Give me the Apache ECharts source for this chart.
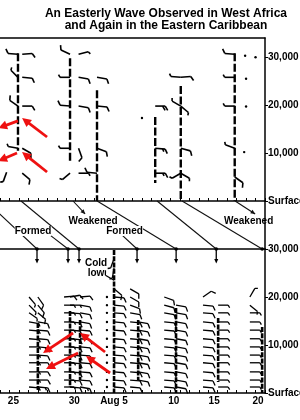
<!DOCTYPE html>
<html><head><meta charset="utf-8">
<script src="https://cdn.jsdelivr.net/npm/echarts@6/dist/echarts.min.js"></script>
<style>html,body{margin:0;padding:0;background:#fff}#c{width:300px;height:420px}</style>
</head><body><div id="c"></div>
<script>
// ---------- DATA (days counted from July 25 = 0) ----------
const dayTicks = [0, 5, 11, 16, 21, 26];
const dayLabels = ['25', '30', 'Aug 5', '10', '15', '20'];
const heightTicks = [0, 10000, 20000, 30000];
const heightLabels = ['Surface', '10,000', '20,000', '30,000'];

// West Africa soundings: [day, height ft, wind direction deg, speed kt]
const waWinds = [
  [-0.1, 30600, 275, 10], [0.35, 30600, 85, 10],
  [-0.1, 25800, 315, 5],  [0.35, 25800, 95, 10],
  [-0.1, 19800, 305, 10], [0.35, 19800, 90, 10],
  [-0.1, 11000, 280, 5],  [0.35, 11000, 120, 10],
  [-1.3, 6000, 200, 5],   [0.35, 5800, 130, 10],
  [5.4, 30600, 295, 10],  [6.3, 30600, 75, 5],
  [5.4, 25800, 270, 5],   [6.3, 25800, 100, 10],
  [5.4, 19800, 275, 10],  [6.3, 19800, 100, 10],
  [5.4, 11000, 270, 5],   [6.3, 11000, 160, 10],
  [5.4, 5800, 230, 5],    [6.3, 5800, 90, 5],
  [8.25, 25800, 100, 10], [8.25, 19800, 95, 10],
  [8.25, 11000, 110, 10], [8.25, 5800, 275, 10],
  [13.0, 17300, 0, 0],
  [14.4, 19800, 90, 20],  [14.4, 11000, 95, 15], [14.4, 5800, 90, 15],
  [17.1, 25800, 275, 5],  [17.1, 25800, 85, 10],
  [17.1, 19800, 300, 5],  [17.1, 19800, 130, 5],
  [17.1, 11000, 105, 10],
  [17.1, 5800, 240, 5],   [17.1, 5800, 120, 5],
  [22.8, 30600, 275, 10], [23.9, 30300, 0, 0], [25.0, 30000, 0, 0],
  [22.8, 25800, 270, 5],  [24.0, 25500, 0, 0],
  [22.8, 19800, 270, 5],  [24.0, 19700, 0, 0],
  [22.8, 11000, 290, 5],  [23.8, 10200, 0, 0],
  [22.8, 5000, 125, 10]
];
// vertical sounding traces: [day, top ft, bottom ft]
const waTraces = [[-0.1, 30800, 10500], [5.4, 29800, 8100], [8.25, 23100, 0],
                  [14.4, 17500, 3750], [17.1, 24000, 0], [22.8, 30800, 0]];
// red arrows: [tail day, tail ft, head day, head ft]
const waRedArrows = [[-0.1, 16700, -2.2, 15200], [2.97, 13350, 0.33, 17300],
                     [-0.2, 10000, -2.2, 8340], [2.97, 6050, 0.33, 10200]];

// wave tracks between the panels: [day seen in West Africa, day seen in Caribbean]
const waveLinks = [[-3.48, 1.91], [0.22, 6.35], [8.26, 16.61], [14.6, 20.85], [17.24, 25.7]];
// pointer lines [from day, from frac, to day, to frac]
const pointers = [[3.29, 0.29, 5.19, 0], [10.9, 0.29, 12.48, 0]];
const weakenArrows = [[5.72, 1, 6.99, 0.73], [22.84, 1, 24.96, 0.73]];
const midLabels = [['Formed', 1.49, 0.375], ['Weakened', 7.83, 0.583],
                   ['Formed', 11.16, 0.375], ['Weakened', 24.27, 0.583]];
const arrivalDays = [1.91, 5.19, 6.35, 12.48, 16.61, 20.85];

// Eastern Caribbean soundings
const caribLevels = [20000, 18300, 16700, 14800, 13100, 11300, 9600, 7900, 6300, 4400, 2700, 1250];
const caribDays = [1.07, 2.0, 4.77, 5.4, 6.46, 9.3, 10.05, 11.75, 12.6, 15.35, 16.6, 19.45, 21.05, 24.4];
const caribDirs = [
  [140,135,125,100,95,95,90,90,90,90,90,95],
  [145,140,130,100,95,95,95,95,90,90,90,95],
  [85,90,90,90,90,90,90,90,90,90,90,90],
  [80,90,95,95,95,95,95,95,95,95,95,95],
  [85,100,100,100,95,95,95,95,95,95,95,100],
  [90,90,90,90,90,90,90,90,90,90,90,90],
  [95,95,95,95,95,95,95,95,95,95,95,95],
  [120,110,100,95,95,95,95,95,95,95,95,95],
  [null,null,null,100,100,100,100,100,100,100,100,null],
  [110,105,100,95,95,95,95,95,95,95,95,95],
  [null,100,100,100,100,100,100,100,100,100,100,100],
  [55,95,95,95,95,95,95,95,95,95,95,95],
  [null,90,90,90,90,90,90,90,90,90,90,90],
  [30,130,90,90,90,90,90,90,90,90,90,90]
];
const caribSpeeds = [
  [5,5,5,5,5,5,5,5,5,5,5,5],
  [10,10,10,10,10,10,15,10,10,10,10,15],
  [10,5,5,5,5,5,5,5,5,5,5,5],
  [10,5,10,10,10,10,10,10,10,10,10,10],
  [10,10,10,10,10,10,10,10,10,10,10,15],
  [0,0,0,0,0,0,0,0,0,0,0,0],
  [10,10,10,10,10,10,10,10,10,10,10,10],
  [10,10,10,10,10,10,10,10,10,10,10,10],
  [null,null,null,10,10,10,10,10,10,10,10,null],
  [10,10,10,10,10,10,10,10,10,10,10,10],
  [null,10,10,10,10,10,10,10,10,10,10,10],
  [10,10,10,10,10,10,10,10,10,10,10,10],
  [null,5,5,5,5,5,5,5,5,5,5,5],
  [5,5,5,5,5,5,5,5,5,5,5,5]
];
const caribExtra = [[10.05, 28000, 200, 5], [10.05, 26000, 190, 5],
                    [10.05, 23500, 300, 10], [10.05, 21700, 130, 10], [11.75, 21700, 120, 10]];
const caribTraces = [[2.0, 14600, 600], [5.4, 17100, 1250], [6.46, 15200, 2700], [10.05, 29800, 0],
                     [12.6, 15200, 2700], [16.6, 17700, 0], [21.05, 15600, 2300], [25.7, 13750, 0]];
const caribRedArrows = [[5.72, 12500, 2.55, 8330], [9.1, 8540, 6.46, 12500],
                        [6.25, 8330, 2.86, 5000], [9.63, 4170, 7.09, 7700]];
const coldLowLabel = [['Cold\nlow', 8.15, 26000]];

// ---------- build ----------
const caribWinds = [];
caribDays.forEach((d, i) => caribLevels.forEach((h, j) => {
  if (caribDirs[i][j] != null) caribWinds.push([d, h, caribDirs[i][j], caribSpeeds[i][j]]);
}));
caribExtra.forEach(r => caribWinds.push(r));

const FONT = '"Liberation Sans", Arial, sans-serif';
const RED = '#ee1111';
function ln(x1, y1, x2, y2, w, c, dash) {
  return {type: 'line', shape: {x1, y1, x2, y2}, style: {stroke: c || '#000', lineWidth: w, lineDash: dash || null}};
}
function head(x1, y1, x2, y2, len, hw, c) {
  const dx = x2 - x1, dy = y2 - y1, m = Math.hypot(dx, dy) || 1, ux = dx / m, uy = dy / m;
  const bx = x2 - ux * len, by = y2 - uy * len;
  return {type: 'polygon', shape: {points: [[x2, y2], [bx - uy * hw, by + ux * hw], [bx + uy * hw, by - ux * hw]]},
          style: {fill: c || '#000'}};
}
function barbRenderer(w) {
  return function (params, api) {
    const p = api.coord([api.value(0), api.value(1)]);
    const dir = api.value(2), spd = api.value(3);
    if (!spd) return {type: 'circle', shape: {cx: p[0], cy: p[1], r: 1.2}, style: {fill: '#000'}};
    const t = dir * Math.PI / 180, sx = Math.sin(t), sy = -Math.cos(t);
    const L = 10, F = 5;
    const tx = p[0] + sx * L, ty = p[1] + sy * L;
    const nx = -sy, ny = sx;
    const fx = nx * 0.87 + sx * 0.5, fy = ny * 0.87 + sy * 0.5;
    const ch = [ln(p[0], p[1], tx, ty, w)];
    let r = spd, k = 0;
    while (r >= 10) {
      const bx = tx - sx * k * 2.6, by = ty - sy * k * 2.6;
      ch.push(ln(bx, by, bx + fx * F, by + fy * F, w)); r -= 10; k++;
    }
    if (r >= 5) {
      const bx = tx - sx * k * 2.6, by = ty - sy * k * 2.6;
      ch.push(ln(bx, by, bx + fx * F * 0.6, by + fy * F * 0.6, w));
    }
    return {type: 'group', children: ch};
  };
}
function traceRender(w, dash) {
  return function (params, api) {
    const a = api.coord([api.value(0), api.value(1)]), b = api.coord([api.value(0), api.value(2)]);
    return ln(a[0], a[1], b[0], b[1], w, '#000', dash);
  };
}
function redArrowRender(params, api) {
  const a = api.coord([api.value(0), api.value(1)]), b = api.coord([api.value(2), api.value(3)]);
  const dx = b[0] - a[0], dy = b[1] - a[1], m = Math.hypot(dx, dy), ux = dx / m, uy = dy / m;
  return {type: 'group', children: [
    ln(a[0], a[1], b[0] - ux * 6, b[1] - uy * 6, 2.8, RED),
    head(a[0], a[1], b[0], b[1], 9, 4.5, RED)
  ]};
}
function linkRender(params, api) {
  const a = api.coord([api.value(0), 1]), b = api.coord([api.value(1), 0]);
  return {type: 'group', children: [
    ln(a[0], a[1], b[0], b[1], 1.1, '#111'),
    {type: 'circle', shape: {cx: b[0], cy: b[1], r: 1.8}, style: {fill: '#000'}}
  ]};
}
function pointerRender(params, api) {
  const a = api.coord([api.value(0), api.value(1)]), b = api.coord([api.value(2), api.value(3)]);
  return {type: 'group', children: [
    ln(a[0], a[1], b[0], b[1], 1.1, '#111'),
    {type: 'circle', shape: {cx: b[0], cy: b[1], r: 1.8}, style: {fill: '#000'}}
  ]};
}
function weakenRender(params, api) {
  const a = api.coord([api.value(0), api.value(1)]), b = api.coord([api.value(2), api.value(3)]);
  return {type: 'group', children: [
    ln(a[0], a[1], b[0], b[1], 1.1, '#111'),
    head(a[0], a[1], b[0], b[1], 4.5, 2.2, '#111')
  ]};
}
function textRender(list, bg) {
  return function (params, api) {
    const it = list[params.dataIndex];
    const p = api.coord([it[1], it[2]]);
    return {type: 'text', x: p[0], y: p[1], style: {
      text: it[0], font: 'bold 10px ' + FONT, fill: '#000',
      align: 'center', verticalAlign: 'middle', textAlign: 'center', textVerticalAlign: 'middle',
      lineHeight: 10, backgroundColor: bg && it[0] === 'Formed' ? '#fff' : null
    }};
  };
}
function arrivalRender(params, api) {
  const a = api.coord([api.value(0), 30000]), b = api.coord([api.value(0), 27000]);
  return {type: 'group', children: [
    ln(a[0], a[1], b[0], b[1] - 3, 1.3, '#000'),
    head(a[0], a[1], b[0], b[1], 4.5, 2, '#000')
  ]};
}

const labelNudge = ['25{a11|}', '{a16|}30', 'Aug 5{a18|}', '{a7|}10', '15{a7|}', '20{a14|}'];
const axisLineStyle = {show: true, onZero: false, lineStyle: {color: '#000', width: 1.5}};
const labelFont = {fontSize: 10, fontWeight: 'bold', color: '#000', fontFamily: FONT};
function xAx(grid, pos, ticks, labels) {
  return {
    gridIndex: grid, type: 'value', min: -2, max: 26, interval: 1, position: pos,
    axisLine: axisLineStyle,
    axisTick: {show: ticks, inside: true, length: 3, lineStyle: {color: '#000', width: 1}},
    axisLabel: labels ? Object.assign({
      show: true, margin: 3, customValues: dayTicks, showMinLabel: true, showMaxLabel: true,
      formatter: v => { const i = dayTicks.indexOf(v); return i < 0 ? '' : labelNudge[i]; },
      rich: {a7: {width: 7}, a11: {width: 11}, a14: {width: 14}, a16: {width: 16}, a18: {width: 18}}
    }, labelFont) : {show: false},
    splitLine: {show: false}
  };
}
function yAx(grid, max, labels) {
  return {
    gridIndex: grid, type: 'value', min: 0, max: max, interval: labels ? 10000 : null, position: 'right',
    axisLine: axisLineStyle,
    axisTick: {show: labels, length: 3, customValues: heightTicks, lineStyle: {color: '#000', width: 1}},
    axisLabel: labels ? Object.assign({
      show: true, margin: 3, customValues: heightTicks, showMinLabel: true, showMaxLabel: true,
      formatter: v => { const i = heightTicks.indexOf(v); return i < 0 ? '' : heightLabels[i]; }
    }, labelFont) : {show: false},
    splitLine: {show: false}
  };
}

const chart = echarts.init(document.getElementById('c'), null, {renderer: 'canvas'});
chart.setOption({
  animation: false,
  backgroundColor: '#fff',
  graphic: [
    {type: 'text', x: 166, y: 13.5, style: {text: 'An Easterly Wave Observed in West Africa', font: 'bold 12px ' + FONT,
      fill: '#000', align: 'center', verticalAlign: 'middle', textAlign: 'center', textVerticalAlign: 'middle'}},
    {type: 'text', x: 166, y: 26, style: {text: 'and Again in the Eastern Caribbean', font: 'bold 12px ' + FONT,
      fill: '#000', align: 'center', verticalAlign: 'middle', textAlign: 'center', textVerticalAlign: 'middle'}}
  ],
  grid: [
    {left: 0, top: 38, width: 265, height: 163, outerBoundsMode: 'none'},
    {left: 0, top: 201, width: 265, height: 48, outerBoundsMode: 'none'},
    {left: 0, top: 249, width: 265, height: 144, outerBoundsMode: 'none'}
  ],
  xAxis: [xAx(0, 'bottom', true, false), xAx(0, 'top', false, false), xAx(1, 'bottom', false, false), xAx(2, 'bottom', true, true)],
  yAxis: [yAx(0, 34000, true), yAx(1, 1, false), yAx(2, 30000, true)],
  series: [
    {type: 'custom', xAxisIndex: 0, yAxisIndex: 0, data: waTraces, renderItem: traceRender(2.4, [8, 2.5]), silent: true},
    {type: 'custom', xAxisIndex: 0, yAxisIndex: 0, data: waWinds, renderItem: barbRenderer(1.6), silent: true},
    {type: 'custom', xAxisIndex: 0, yAxisIndex: 0, data: waRedArrows, renderItem: redArrowRender, silent: true, z: 5},
    {type: 'custom', xAxisIndex: 2, yAxisIndex: 1, data: waveLinks, renderItem: linkRender, silent: true},
    {type: 'custom', xAxisIndex: 2, yAxisIndex: 1, data: pointers, renderItem: pointerRender, silent: true},
    {type: 'custom', xAxisIndex: 2, yAxisIndex: 1, data: weakenArrows, renderItem: weakenRender, silent: true},
    {type: 'custom', xAxisIndex: 2, yAxisIndex: 1, data: midLabels.map(r => [r[1], r[2]]), renderItem: textRender(midLabels, true), silent: true, z: 6},
    {type: 'custom', xAxisIndex: 3, yAxisIndex: 2, data: caribTraces, renderItem: traceRender(2.6, [5, 1.3]), silent: true},
    {type: 'custom', xAxisIndex: 3, yAxisIndex: 2, data: caribWinds, renderItem: barbRenderer(1.3), silent: true},
    {type: 'custom', xAxisIndex: 3, yAxisIndex: 2, data: arrivalDays.map(d => [d, 30000]), renderItem: arrivalRender, silent: true},
    {type: 'custom', xAxisIndex: 3, yAxisIndex: 2, data: caribRedArrows, renderItem: redArrowRender, silent: true, z: 5},
    {type: 'custom', xAxisIndex: 3, yAxisIndex: 2, data: coldLowLabel.map(r => [r[1], r[2]]), renderItem: textRender(coldLowLabel, false), silent: true, z: 6}
  ]
});
</script></body></html>
